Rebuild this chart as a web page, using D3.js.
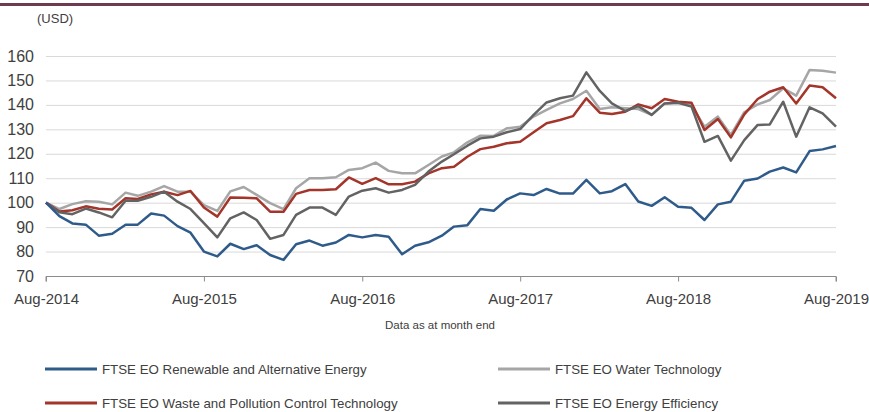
<!DOCTYPE html>
<html>
<head>
<meta charset="utf-8">
<script src="https://cdn.jsdelivr.net/npm/d3@7"></script>
<style>
  body { margin: 0; background: #fff; }
  text { font-family: "Liberation Sans", Arial, sans-serif; }
</style>
</head>
<body>
<div id="chart"></div>
<script>
const width = 869;
const height = 412;

// monthly index values, Aug-2014 .. Aug-2019
const renewable = [100, 94.5, 91.5, 91, 86.5, 87.3, 91, 91, 95.6, 94.7, 90.4, 87.7, 80, 78, 83.2, 81, 82.6, 78.6, 76.6, 83, 84.5, 82.4, 83.7, 86.8, 85.8, 86.8, 86.1, 78.9, 82.4, 83.8, 86.5, 90.2, 90.8, 97.4, 96.7, 101.3, 103.8, 103.1, 105.6, 103.7, 103.7, 109.3, 103.8, 104.7, 107.6, 100.5, 98.7, 102.2, 98.3, 97.9, 92.9, 99.3, 100.4, 109, 109.9, 112.7, 114.4, 112.4, 121.1, 121.8, 123.2];
const water = [100, 97.4, 99.4, 100.6, 100.4, 99.3, 104.1, 102.8, 104.5, 106.8, 104.5, 104.5, 99, 96.6, 104.6, 106.4, 103.2, 99.8, 97.4, 105.9, 110, 110, 110.4, 113.4, 114.1, 116.4, 113, 112, 112, 115.4, 118.9, 120.6, 124.7, 127.4, 127.3, 130.4, 131.1, 135.2, 138, 140.6, 142.4, 145.8, 138.3, 139, 138.6, 138.3, 135.9, 140.6, 140.9, 139.9, 131.1, 135.2, 127.7, 137, 140.2, 142, 146.8, 143.8, 154.3, 154, 153.2];
const waste = [100, 96.4, 96.9, 98.5, 97.5, 97.2, 101.8, 101.5, 103.4, 104.5, 103.1, 104.8, 98, 94.3, 102.1, 102, 101.8, 96.3, 96.3, 103.6, 105.2, 105.2, 105.5, 110.3, 107.7, 110, 107.5, 107.5, 108.6, 112, 114.1, 114.7, 118.8, 121.9, 122.9, 124.3, 124.9, 128.8, 132.5, 133.8, 135.4, 142.7, 136.8, 136.3, 137.2, 140.2, 138.6, 142.4, 141.3, 140.9, 129.7, 134.2, 126.7, 136.1, 142.4, 145.4, 147.2, 140.6, 147.9, 147.2, 142.7];
const efficiency = [100, 96.1, 95.3, 97.6, 96, 94, 100.8, 100.8, 102.4, 104.5, 100.4, 97.4, 91.6, 85.8, 93.6, 96, 92.9, 85.2, 86.8, 95, 98, 98, 95, 102.5, 104.9, 105.9, 104.1, 105.2, 107.3, 112.7, 116.8, 119.8, 123.3, 126.3, 127, 128.8, 130.1, 135.9, 141, 142.7, 143.8, 153.3, 145.7, 140.6, 137.5, 139.5, 135.9, 140.6, 140.9, 139.3, 124.9, 127.3, 117.2, 125.6, 131.8, 132, 141.3, 127, 139, 136.5, 131.1];

const yTicks = [70, 80, 90, 100, 110, 120, 130, 140, 150, 160];
const xTickLabels = ["Aug-2014", "Aug-2015", "Aug-2016", "Aug-2017", "Aug-2018", "Aug-2019"];
const seriesNames = [
  "FTSE EO Renewable and Alternative Energy",
  "FTSE EO Water Technology",
  "FTSE EO Waste and Pollution Control Technology",
  "FTSE EO Energy Efficiency"
];
const colors = ["#2f5b8b", "#a6a6a6", "#a3352a", "#636363"];

const months = renewable.map((d, i) => new Date(2014, 7 + i, 1));
const series = [renewable, water, waste, efficiency].map((vals, k) => ({
  name: seriesNames[k],
  color: colors[k],
  values: vals.map((v, i) => ({ date: months[i], v }))
}));

const margin = { left: 46, right: 33, top: 56, bottom: 136 };

const svg = d3.select("#chart").append("svg")
  .attr("width", width)
  .attr("height", height);

// top band
svg.append("rect")
  .attr("x", 0).attr("y", 3)
  .attr("width", width).attr("height", 3)
  .attr("fill", "#6f3a4f");

const x = d3.scaleTime()
  .domain([months[0], months[months.length - 1]])
  .range([margin.left, width - margin.right]);

const y = d3.scaleLinear()
  .domain([70, 160])
  .range([height - margin.bottom, margin.top]);

// gridlines
svg.append("g")
    .attr("stroke", "#d9d9d9")
    .attr("stroke-width", 1)
  .selectAll("line")
  .data(yTicks.slice(1))
  .enter().append("line")
    .attr("x1", x.range()[0])
    .attr("x2", x.range()[1])
    .attr("y1", d => y(d) + 0.5)
    .attr("y2", d => y(d) + 0.5);

// y labels
svg.append("g")
  .selectAll("text")
  .data(yTicks)
  .enter().append("text")
    .attr("x", 34)
    .attr("y", d => y(d))
    .attr("dy", "0.35em")
    .attr("text-anchor", "end")
    .attr("font-size", 16)
    .attr("fill", "#404040")
    .text(d => d);

svg.append("text")
  .attr("x", 37).attr("y", 23)
  .attr("font-size", 13)
  .attr("fill", "#404040")
  .text("(USD)");

// x axis, one tick every 12 months
const tickDates = months.filter((d, i) => i % 12 === 0);
const xAxis = d3.axisBottom(x)
  .tickValues(tickDates)
  .tickFormat((d, i) => xTickLabels[i])
  .tickSize(5)
  .tickPadding(12);

const gx = svg.append("g")
  .attr("transform", `translate(0,${y(70) + 0.5})`)
  .call(xAxis);
gx.select(".domain").attr("stroke", "#8c8c8c").attr("d", `M${x.range()[0]},5V0H${x.range()[1]}V5`);
gx.selectAll(".tick line").attr("stroke", "#8c8c8c");
gx.selectAll(".tick text")
  .attr("font-size", 15)
  .attr("fill", "#404040")
  .style("font-family", "'Liberation Sans', Arial, sans-serif");

svg.append("text")
  .attr("x", 440).attr("y", 329)
  .attr("text-anchor", "middle")
  .attr("font-size", 11.5)
  .attr("fill", "#404040")
  .text("Data as at month end");

// lines
const line = d3.line()
  .x(d => x(d.date))
  .y(d => y(d.v));

const drawOrder = [1, 2, 3, 0];
svg.append("g")
    .attr("fill", "none")
    .attr("stroke-width", 2.5)
    .attr("stroke-linejoin", "round")
  .selectAll("path")
  .data(drawOrder.map(k => series[k]))
  .enter().append("path")
    .attr("stroke", d => d.color)
    .attr("d", d => line(d.values));

// legend
const legendPos = [[45, 369], [498, 369], [45, 403], [498, 403]];
const legend = svg.append("g")
  .selectAll("g")
  .data(series)
  .enter().append("g")
    .attr("transform", (d, i) => `translate(${legendPos[i][0]},${legendPos[i][1]})`);

legend.append("line")
  .attr("x1", 0).attr("x2", 52)
  .attr("stroke", d => d.color)
  .attr("stroke-width", 3);

legend.append("text")
  .attr("x", 57)
  .attr("dy", "0.35em")
  .attr("font-size", 13.3)
  .attr("fill", "#404040")
  .text(d => d.name);
</script>
</body>
</html>
